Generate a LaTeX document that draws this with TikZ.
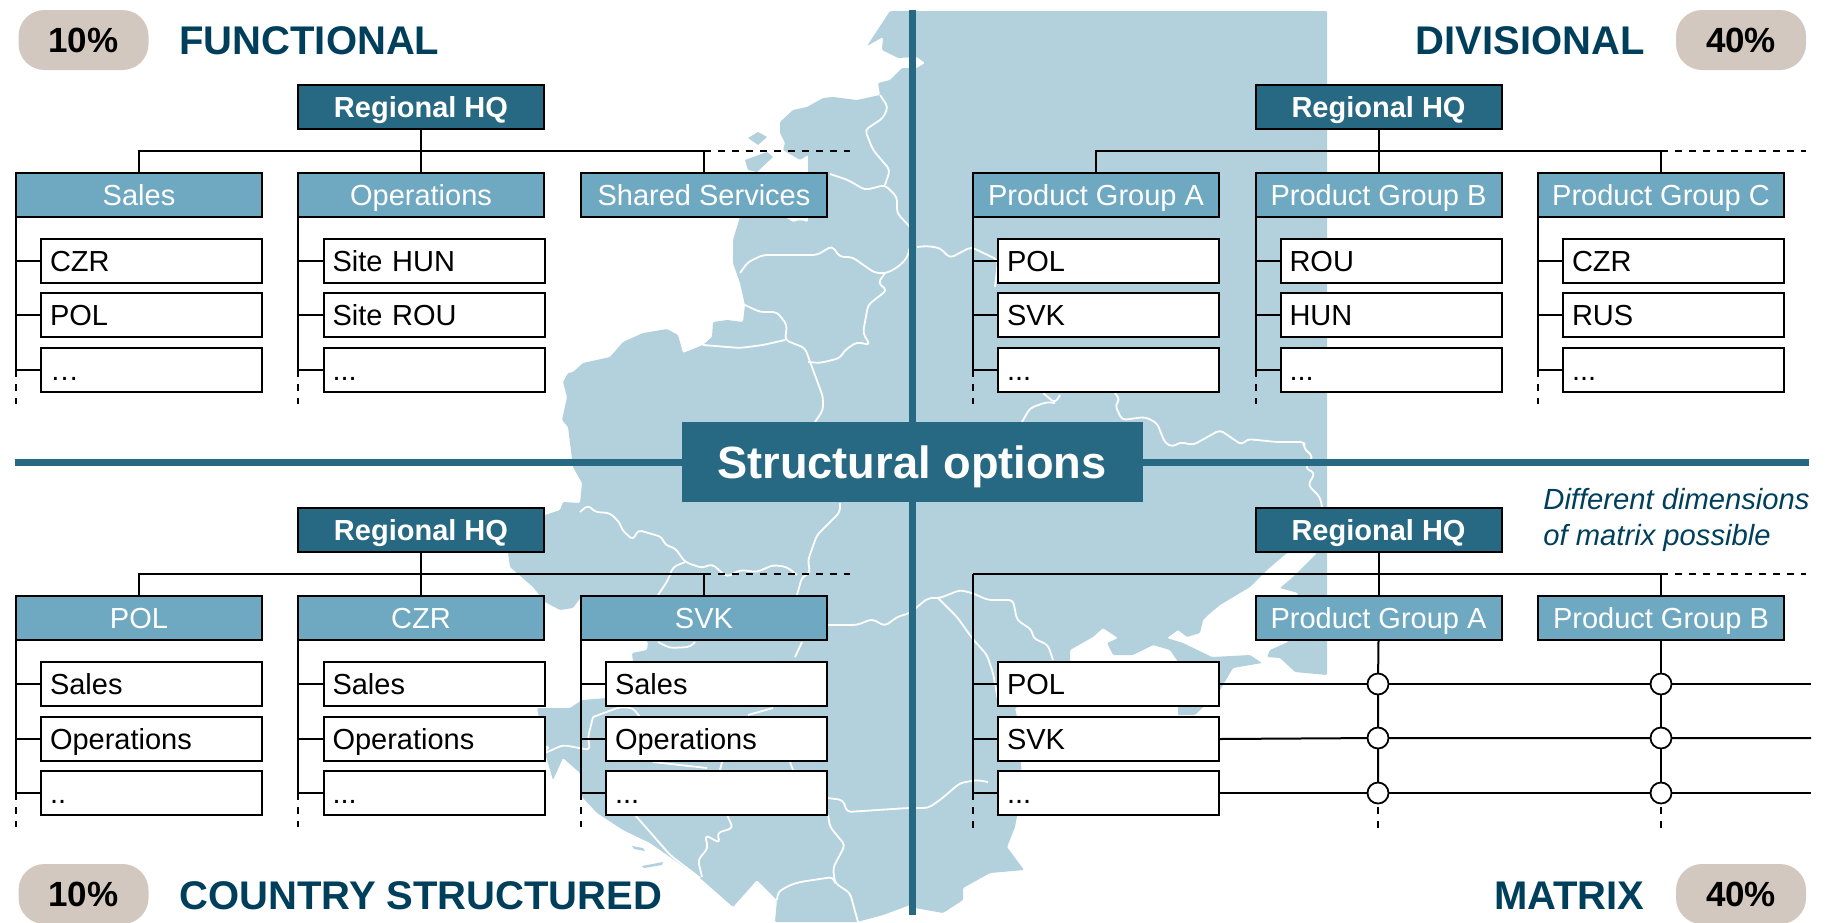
\documentclass[tikz,border=0pt]{standalone}
\usepackage{fontspec}
\setmainfont{Liberation Sans}
\definecolor{maincol}{HTML}{276882}
\definecolor{deptcol}{HTML}{6FA9C1}
\definecolor{mapcol}{HTML}{B2D1DD}
\definecolor{pillcol}{HTML}{D3C8BF}
\definecolor{titlecol}{HTML}{003F5C}
\tikzset{
  hqbox/.style={draw=black,fill=maincol,text=white,line width=1pt,outer sep=0pt,inner sep=0pt,anchor=north west,
    minimum width=123pt,minimum height=22pt,text height=10.8pt,text depth=0pt,font=\fontsize{14.5}{17}\selectfont\bfseries},
  deptbox/.style={draw=black,fill=deptcol,text=white,line width=1pt,outer sep=0pt,inner sep=0pt,anchor=north west,
    minimum width=123pt,minimum height=22pt,text height=10.8pt,text depth=0pt,font=\fontsize{14.5}{17}\selectfont},
  itembox/.style={draw=black,fill=white,line width=1pt,outer sep=0pt,inner xsep=4.5pt,inner ysep=0pt,anchor=north west,
    text width=101.5pt,align=left,minimum height=22pt,text height=10.8pt,text depth=0pt,font=\fontsize{14.5}{17}\selectfont},
  pillbox/.style={fill=pillcol,rounded corners=13pt,minimum width=65pt,minimum height=30pt,inner sep=0pt,
    text height=12.8pt,text depth=0pt,font=\fontsize{17.5}{20}\selectfont\bfseries},
  headline/.style={text=titlecol,inner sep=0pt,font=\fontsize{20}{23}\selectfont\bfseries},
  crossing/.style={draw=black,fill=white,circle,line width=.9pt,minimum size=10.5pt,inner sep=0pt,outer sep=0pt},
  link/.style={black,line width=1pt},
  openlink/.style={black,line width=1pt,dash pattern=on 3.5pt off 3.5pt},
  bar/.style={maincol,line width=3.2pt},
  border/.style={white,line width=.9pt,line join=round,rounded corners=2pt}
}
\begin{document}
\begin{tikzpicture}[x=.5pt,y=-.5pt]
  \useasboundingbox (0,0) rectangle (1829,922);

  % map behind everything
  \fill[mapcol,rounded corners=.6pt] (890,11) -- (867,46) -- (883,37) -- (882,50) -- (898,58) -- (917,57) -- (925,63) -- (917,68)
    -- (902,68) -- (890,80) -- (878,83) -- (880,95) -- (857,100) -- (833,97) -- (823,98) -- (807,107)
    -- (793,110) -- (780,122) -- (780,133) -- (785,143) -- (783,150) -- (800,160) -- (808,155)
    -- (808,222) -- (800,220) -- (793,222) -- (785,217) -- (740,217)
    -- (733,240) -- (733,263) -- (740,283) -- (745,305) -- (743,322) -- (727,320) -- (713,322) -- (712,337)
    -- (703,345) -- (683,353) -- (678,335) -- (667,329) -- (643,333) -- (623,342) -- (610,357) -- (583,363)
    -- (573,372) -- (568,373) -- (563,382) -- (567,397) -- (562,420) -- (568,427) -- (573,467) -- (582,483)
    -- (580,503) -- (563,502) -- (560,510) -- (545,515) -- (508,553) -- (510,567) -- (533,587) -- (545,602)
    -- (560,610) -- (573,608) -- (581,597) -- (648,642) -- (647,650) -- (632,653) -- (633,662) -- (607,698)
    -- (582,700) -- (570,708) -- (537,708) -- (545,745) -- (550,747) -- (545,753) -- (553,780) -- (563,758)
    -- (580,773) -- (582,797) -- (597,813) -- (623,830) -- (650,843) -- (670,857) -- (700,878) -- (733,907)
    -- (757,880) -- (777,900) -- (775,922) -- (857,922) -- (883,915) -- (910,905) -- (915,908) -- (943,913)
    -- (963,900) -- (963,888) -- (990,873) -- (1024,870) -- (1007,847) -- (1015,827) -- (1022,790) -- (1020,730)
    -- (1015,708) -- (1040,700) -- (1060,680) -- (1070,662) -- (1070,650) -- (1093,637) -- (1103,628) -- (1118,638)
    -- (1107,643) -- (1113,655) -- (1133,655) -- (1153,645) -- (1170,650) -- (1178,662) -- (1178,715) -- (1195,715)
    -- (1220,690) -- (1233,668) -- (1262,663) -- (1250,655) -- (1212,657) -- (1183,643) -- (1167,638) -- (1178,630)
    -- (1187,637) -- (1200,633) -- (1203,620) -- (1208,615) -- (1220,605) -- (1250,587) -- (1267,570) -- (1287,553)
    -- (1317,553) -- (1293,577) -- (1280,588) -- (1298,593) -- (1288,642) -- (1270,650) -- (1267,657) -- (1280,658)
    -- (1295,672) -- (1327,675) -- (1327,11) -- cycle;
  \fill[mapcol] (748,138) -- (758,132) -- (767,137) -- (758,145) -- cycle;
  \fill[mapcol] (745,160) -- (767,152) -- (773,157) -- (757,172) -- (748,170) -- cycle;
  \fill[mapcol] (632,846) -- (643,848) -- (645,851) -- (634,849) -- cycle;
  \fill[mapcol] (642,866) -- (663,862) -- (662,865) -- (644,868) -- cycle;

  % borders
  \draw[border] (880,95) -- (888,107) -- (883,118) -- (865,130) -- (873,150) -- (890,170) -- (885,185);
  \draw[border] (830,174) -- (848,180) -- (865,190) -- (885,185) -- (897,197) -- (897,213) -- (910,227);
  \draw[border] (740,273) -- (748,262) -- (763,255) -- (817,255) -- (832,246) -- (840,257) -- (852,257) -- (875,273)
    -- (887,273) -- (898,267) -- (907,258) -- (910,247);
  \draw[border] (917,247) -- (927,246) -- (940,248) -- (950,258) -- (971,247) -- (998,260) -- (995,287);
  \draw[border] (885,273) -- (878,283) -- (887,290) -- (868,305) -- (863,333) -- (870,345) -- (857,342) -- (845,350)
    -- (840,358) -- (820,363) -- (808,362);
  \draw[border] (745,305) -- (760,312) -- (777,312) -- (787,325) -- (785,340) -- (805,348) -- (823,397) -- (823,410) -- (815,422);
  \draw[border] (703,345) -- (740,348) -- (763,345) -- (785,340);
  \draw[border] (1043,393) -- (1055,403) -- (1060,395);
  \draw[border] (1055,403) -- (1047,402) -- (1030,408) -- (1022,422);
  \draw[border] (1115,393) -- (1120,400) -- (1115,405) -- (1122,420) -- (1145,417) -- (1157,423) -- (1165,443) -- (1173,447)
    -- (1180,442) -- (1193,445) -- (1220,430) -- (1242,445) -- (1247,439) -- (1277,442) -- (1305,442) -- (1303,447)
    -- (1313,457) -- (1305,468) -- (1315,473) -- (1308,485) -- (1320,497) -- (1322,507);
  \draw[border] (840,503) -- (840,512) -- (817,535) -- (808,560) -- (810,573) -- (802,577) -- (797,595);
  \draw[border] (802,642) -- (795,657);
  \draw[border] (580,512) -- (588,505) -- (595,512) -- (610,513) -- (620,523) -- (622,530) -- (633,540) -- (638,530)
    -- (662,537) -- (665,545) -- (675,548) -- (685,562) -- (702,568) -- (712,564) -- (727,577) -- (740,570) -- (757,572)
    -- (773,565) -- (787,567) -- (797,575);
  \draw[border] (685,562) -- (673,567) -- (668,580) -- (658,595);
  \draw[border] (658,642) -- (670,648) -- (690,647) -- (695,642);
  \draw[border] (828,625) -- (857,625) -- (872,619) -- (885,626) -- (897,617) -- (910,613) -- (917,607) -- (928,598)
    -- (940,598) -- (960,590) -- (972,593) -- (988,600) -- (1013,600) -- (1017,620) -- (1032,630) -- (1033,638) -- (1048,645) -- (1053,660);
  \draw[border] (938,598) -- (957,617) -- (972,638) -- (987,655) -- (993,673) -- (998,700);
  \draw[border] (828,798) -- (843,800) -- (847,812) -- (908,808) -- (928,808) -- (940,800) -- (960,783) -- (977,780) -- (988,782);
  \draw[border] (828,815) -- (830,827) -- (845,845) -- (833,868) -- (835,883) -- (850,893) -- (858,922);
  \draw[border] (835,883) -- (833,877) -- (813,880) -- (800,882) -- (790,885) -- (778,892) -- (777,900);
  \draw[border] (727,815) -- (733,828) -- (717,833) -- (720,843) -- (705,835) -- (708,848) -- (698,860) -- (702,877);
  \draw[border] (635,815) -- (657,840) -- (670,855) -- (700,878);
  \draw[border] (593,717) -- (588,737) -- (590,750) -- (563,745) -- (545,753);
  \draw[border] (593,717) -- (620,707) -- (633,708) -- (640,717);
  \draw[border] (748,715) -- (773,708);
  \draw[border] (653,762) -- (707,768);
  \draw[border] (720,770) -- (722,762);
  \draw[border] (790,762) -- (793,770);

  % cross of the four options
  \node[fill=maincol,text=white,minimum width=230.5pt,minimum height=40pt,inner sep=0pt,outer sep=0pt,
    text height=16pt,text depth=0pt,font=\fontsize{22.6}{26}\selectfont\bfseries] (options) at (912,462) {Structural options};
  \coordinate (bartop) at (912.5,10);
  \coordinate (barbot) at (912.5,915);
  \coordinate (barleft) at (15,462.5);
  \coordinate (barright) at (1809,462.5);
  \draw[bar] (bartop) -- (bartop |- options.north);
  \draw[bar] (barbot |- options.south) -- (barbot);
  \draw[bar] (barleft) -- (barleft -| options.west);
  \draw[bar] (barright -| options.east) -- (barright);

  % functional
  \node[pillbox] (fpill) at (83.5,40) {10\%};
  \node[headline,anchor=base west] (ftitle) at (179,54) {FUNCTIONAL};
  \node[hqbox] (fhq) at (298,85) {Regional HQ};
  \node[deptbox] (fsales) at (16,173) {Sales};
  \node[deptbox] (fops) at (298,173) {Operations};
  \node[deptbox] (fshared) at (581,173) {Shared Services};
  \node[itembox] (fsales1) at (41,239) {CZR};
  \node[itembox] (fsales2) at (41,293) {POL};
  \node[itembox] (fsales3) at (41,348) {…};
  \node[itembox] (fops1) at (323.5,239) {Site HUN};
  \node[itembox] (fops2) at (323.5,293) {Site ROU};
  \node[itembox] (fops3) at (323.5,348) {...};
  \coordinate (fbus) at (421,151);
  \coordinate (fend) at (850,151);
  \coordinate (fsalesend) at (16,404);
  \coordinate (fopsend) at (298,404);
  \draw[link] (fhq.south) -- (fops.north);
  \draw[link] (fsales.north) |- (fbus) -| (fshared.north);
  \draw[openlink] (fbus -| fshared.north) -- (fend);
  \draw[link] (fsales.south west) |- (fsales1.west) (fsales.south west) |- (fsales2.west) (fsales.south west) |- (fsales3.west);
  \draw[link] (fops.south west) |- (fops1.west) (fops.south west) |- (fops2.west) (fops.south west) |- (fops3.west);
  \draw[openlink] (fsales.south west |- fsales3.west) -- (fsalesend);
  \draw[openlink] (fops.south west |- fops3.west) -- (fopsend);

  % divisional
  \node[pillbox] (dpill) at (1741,40) {40\%};
  \node[headline,anchor=base east] (dtitle) at (1645,54) {DIVISIONAL};
  \node[hqbox] (dhq) at (1255.5,85) {Regional HQ};
  \node[deptbox] (dga) at (973,173) {Product Group A};
  \node[deptbox] (dgb) at (1255.5,173) {Product Group B};
  \node[deptbox] (dgc) at (1538,173) {Product Group C};
  \node[itembox] (dga1) at (998,239) {POL};
  \node[itembox] (dga2) at (998,293) {SVK};
  \node[itembox] (dga3) at (998,348) {...};
  \node[itembox] (dgb1) at (1280.5,239) {ROU};
  \node[itembox] (dgb2) at (1280.5,293) {HUN};
  \node[itembox] (dgb3) at (1280.5,348) {...};
  \node[itembox] (dgc1) at (1563,239) {CZR};
  \node[itembox] (dgc2) at (1563,293) {RUS};
  \node[itembox] (dgc3) at (1563,348) {...};
  \coordinate (dbus) at (1378,151);
  \coordinate (dend) at (1806,151);
  \coordinate (dgaend) at (973,404);
  \coordinate (dgbend) at (1255.5,404);
  \coordinate (dgcend) at (1538,404);
  \draw[link] (dhq.south) -- (dgb.north);
  \draw[link] (dga.north) |- (dbus) -| (dgc.north);
  \draw[openlink] (dbus -| dgc.north) -- (dend);
  \draw[link] (dga.south west) |- (dga1.west) (dga.south west) |- (dga2.west) (dga.south west) |- (dga3.west);
  \draw[link] (dgb.south west) |- (dgb1.west) (dgb.south west) |- (dgb2.west) (dgb.south west) |- (dgb3.west);
  \draw[link] (dgc.south west) |- (dgc1.west) (dgc.south west) |- (dgc2.west) (dgc.south west) |- (dgc3.west);
  \draw[openlink] (dga.south west |- dga3.west) -- (dgaend);
  \draw[openlink] (dgb.south west |- dgb3.west) -- (dgbend);
  \draw[openlink] (dgc.south west |- dgc3.west) -- (dgcend);

  % country structured
  \node[pillbox] (cpill) at (83.5,894) {10\%};
  \node[headline,anchor=base west] (ctitle) at (179,909) {COUNTRY STRUCTURED};
  \node[hqbox] (chq) at (298,508) {Regional HQ};
  \node[deptbox] (cpol) at (16,596) {POL};
  \node[deptbox] (cczr) at (298,596) {CZR};
  \node[deptbox] (csvk) at (581,596) {SVK};
  \node[itembox] (cpol1) at (41,662) {Sales};
  \node[itembox] (cpol2) at (41,717) {Operations};
  \node[itembox] (cpol3) at (41,771) {..};
  \node[itembox] (cczr1) at (323.5,662) {Sales};
  \node[itembox] (cczr2) at (323.5,717) {Operations};
  \node[itembox] (cczr3) at (323.5,771) {...};
  \node[itembox] (csvk1) at (606,662) {Sales};
  \node[itembox] (csvk2) at (606,717) {Operations};
  \node[itembox] (csvk3) at (606,771) {...};
  \coordinate (cbus) at (421,574);
  \coordinate (cend) at (850,574);
  \coordinate (cpolend) at (16,827);
  \coordinate (cczrend) at (298,827);
  \coordinate (csvkend) at (581,827);
  \draw[link] (chq.south) -- (cczr.north);
  \draw[link] (cpol.north) |- (cbus) -| (csvk.north);
  \draw[openlink] (cbus -| csvk.north) -- (cend);
  \draw[link] (cpol.south west) |- (cpol1.west) (cpol.south west) |- (cpol2.west) (cpol.south west) |- (cpol3.west);
  \draw[link] (cczr.south west) |- (cczr1.west) (cczr.south west) |- (cczr2.west) (cczr.south west) |- (cczr3.west);
  \draw[link] (csvk.south west) |- (csvk1.west) (csvk.south west) |- (csvk2.west) (csvk.south west) |- (csvk3.west);
  \draw[openlink] (cpol.south west |- cpol3.west) -- (cpolend);
  \draw[openlink] (cczr.south west |- cczr3.west) -- (cczrend);
  \draw[openlink] (csvk.south west |- csvk3.west) -- (csvkend);

  % matrix
  \node[pillbox] (mpill) at (1741,894) {40\%};
  \node[headline,anchor=base east] (mtitle) at (1645,909) {MATRIX};
  \node[text=titlecol,anchor=north west,inner sep=0pt,align=left,font=\fontsize{14.6}{18}\selectfont\itshape] (mnote) at (1543,488)
    {Different dimensions\\of matrix possible};
  \node[hqbox] (mhq) at (1255.5,508) {Regional HQ};
  \node[deptbox] (mga) at (1255.5,596) {Product Group A};
  \node[deptbox] (mgb) at (1538,596) {Product Group B};
  \node[itembox] (mrow1) at (998,662) {POL};
  \node[itembox] (mrow2) at (998,717) {SVK};
  \node[itembox] (mrow3) at (998,771) {...};
  \node[crossing] (ma1) at (1378,684) {};
  \node[crossing] (ma2) at (1378,738) {};
  \node[crossing] (ma3) at (1378,793) {};
  \node[crossing] (mb1) at (1661,684) {};
  \node[crossing] (mb2) at (1661,738) {};
  \node[crossing] (mb3) at (1661,793) {};
  \coordinate (mbus) at (973,574);
  \coordinate (mend) at (1806,574);
  \coordinate (mrowend) at (973,828);
  \coordinate (mline1) at (1811,684);
  \coordinate (mline2) at (1811,738);
  \coordinate (mline3) at (1811,793);
  \coordinate (mastart) at (1378,807);
  \coordinate (maend) at (1378,828);
  \coordinate (mbstart) at (1661,807);
  \coordinate (mbend) at (1661,828);
  \draw[link] (mhq.south) -- (mga.north);
  \draw[link] (mbus) -| (mgb.north);
  \draw[openlink] (mbus -| mgb.north) -- (mend);
  \draw[link] (mbus) |- (mrow1.west) (mbus) |- (mrow2.west) (mbus) |- (mrow3.west);
  \draw[openlink] (mbus |- mrow3.west) -- (mrowend);
  \draw[link] (mrow1.east) -- (ma1) -- (mb1) -- (mline1);
  \draw[link] (mrow2.east) -- (ma2) -- (mb2) -- (mline2);
  \draw[link] (mrow3.east) -- (ma3) -- (mb3) -- (mline3);
  \draw[link] (mga.south) -- (ma1) -- (ma2) -- (ma3);
  \draw[link] (mgb.south) -- (mb1) -- (mb2) -- (mb3);
  \draw[openlink] (mastart) -- (maend);
  \draw[openlink] (mbstart) -- (mbend);
\end{tikzpicture}
\end{document}
